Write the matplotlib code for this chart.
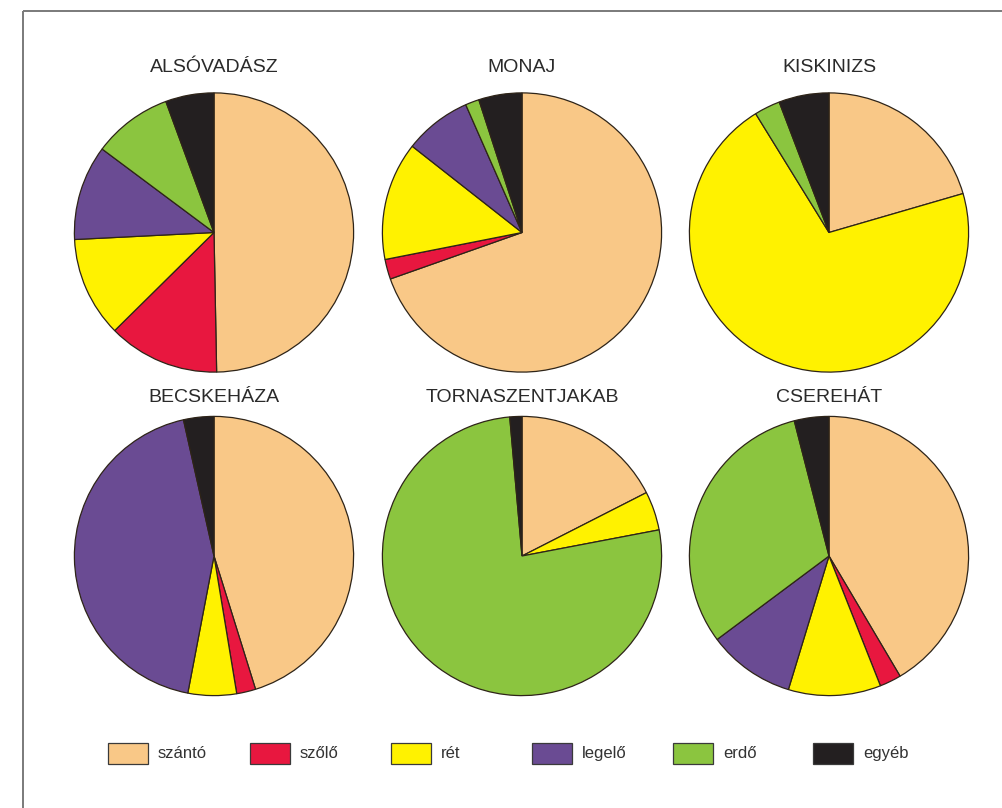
import matplotlib
matplotlib.use("Agg")
import matplotlib.pyplot as plt
from matplotlib.patches import Rectangle

plt.rcParams['font.family'] = ['Liberation Sans', 'DejaVu Sans']

# Land-use categories and their colours
categories = ["szántó", "szőlő", "rét", "legelő", "erdő", "egyéb"]
colors = ["#F9C887", "#E8173F", "#FFF200", "#6A4B93", "#8BC53F", "#231F20"]

# Share of each category (%) per settlement
towns = ["ALSÓVADÁSZ", "MONAJ", "KISKINIZS",
         "BECSKEHÁZA", "TORNASZENTJAKAB", "CSEREHÁT"]
alsovadasz = [49.7, 12.9, 11.6, 11.0, 9.2, 5.6]
monaj = [69.6, 2.3, 13.7, 7.8, 1.6, 5.0]
kiskinizs = [20.5, 0.0, 70.7, 0.0, 3.0, 5.8]
becskehaza = [45.1, 2.2, 5.6, 43.4, 0.0, 3.5]
tornaszentjakab = [17.5, 0.0, 4.5, 0.0, 76.6, 1.4]
cserehat = [41.5, 2.5, 10.7, 10.1, 31.2, 4.0]
shares = [alsovadasz, monaj, kiskinizs, becskehaza, tornaszentjakab, cserehat]

W, H = 1002, 808
fig = plt.figure(figsize=(W / 100, H / 100), dpi=100)
fig.patch.set_facecolor("white")

# Overlay in pixel coordinates for frame, titles and legend
ov = fig.add_axes([0, 0, 1, 1])
ov.set_xlim(0, W)
ov.set_ylim(H, 0)
ov.axis("off")

ov.plot([23.5, W], [10.5, 10.5], color="#7a7a7a", lw=1.4, solid_capstyle="butt")
ov.plot([23.5, 23.5], [10.5, H], color="#7a7a7a", lw=1.4, solid_capstyle="butt")

centers_x = [214, 522, 829]
centers_y = [232.5, 556]
title_y = [68, 398]
radius = 139.6
pad = 1.03

for i, (name, vals) in enumerate(zip(towns, shares)):
    cx = centers_x[i % 3]
    cy = centers_y[i // 3]
    r = radius * pad
    ax = fig.add_axes([(cx - r) / W, (H - cy - r) / H, 2 * r / W, 2 * r / H])
    keep = [(v, c) for v, c in zip(vals, colors) if v > 0]
    ax.pie([v for v, _ in keep], colors=[c for _, c in keep],
           startangle=90, counterclock=False, radius=1.0,
           wedgeprops=dict(edgecolor="#2e2418", linewidth=0.9))
    ax.set_xlim(-pad, pad)
    ax.set_ylim(-pad, pad)
    ax.set_aspect("equal")
    ax.axis("off")
    ov.text(cx, title_y[i // 3], name, ha="center", va="center",
            fontsize=14, color="#2a2a2a")

# Legend row
box_x = [108, 250, 391, 532, 673, 813]
for x, lab, col in zip(box_x, categories, colors):
    ov.add_patch(Rectangle((x, 743), 40, 21, facecolor=col,
                           edgecolor="#3a3a3a", lw=0.9))
    ov.text(x + 50, 753.5, lab, ha="left", va="center",
            fontsize=12, color="#333333")

fig.savefig("out.png", dpi=100, facecolor="white")
